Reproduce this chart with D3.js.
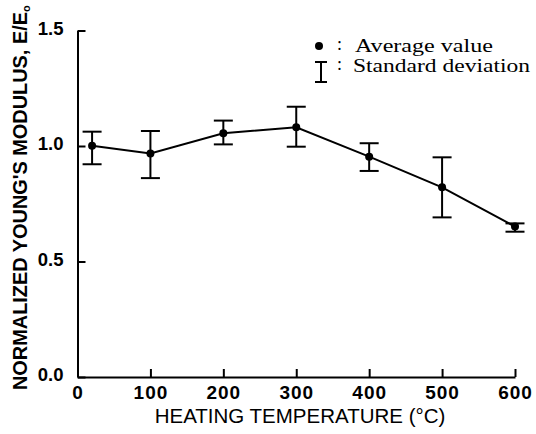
<!DOCTYPE html>
<html><head><meta charset="utf-8">
<script src="https://cdn.jsdelivr.net/npm/d3@7"></script>
<style>
html,body{margin:0;padding:0;background:#fff;}
svg{display:block;}
</style></head>
<body>
<svg id="chart" width="536" height="434"></svg>
<script>
// ---- data ----
const temperatures = [20, 100, 200, 300, 400, 500, 600];
const averageValues = [1.001, 0.968, 1.055, 1.081, 0.954, 0.821, 0.651];
const upperValues   = [1.062, 1.065, 1.110, 1.170, 1.012, 0.951, 0.665];
const lowerValues   = [0.921, 0.861, 1.007, 0.997, 0.892, 0.691, 0.629];
const xTicks = [0, 100, 200, 300, 400, 500, 600];
const yTicks = [0.0, 0.5, 1.0, 1.5];
const xTitle = "HEATING TEMPERATURE (°C)";
const yTitle = "NORMALIZED YOUNG'S MODULUS, E/E";
const yTitleSub = "o";
const legendLabels = ["Average value", "Standard deviation"];

const svg = d3.select("#chart");
const x = d3.scaleLinear().domain([0, 600]).range([77.5, 515]);
const y = d3.scaleLinear().domain([0, 1.5]).range([377, 30.5]);

const data = temperatures.map((t, i) => ({t, v: averageValues[i], hi: upperValues[i], lo: lowerValues[i]}));

// axes
const gx = svg.append("g").attr("transform", `translate(0,${y(0)})`)
  .call(d3.axisBottom(x).tickValues(xTicks).tickSizeInner(-8).tickSizeOuter(0).tickPadding(9).tickFormat(d3.format("d")));
gx.selectAll("text").attr("font-family", "'Liberation Sans', Arial, sans-serif")
  .attr("font-size", 19).attr("font-weight", "bold").attr("letter-spacing", "1px").attr("fill", "#000");

const gy = svg.append("g").attr("transform", `translate(${x(0)},0)`)
  .call(d3.axisLeft(y).tickValues(yTicks).tickSizeInner(-8).tickSizeOuter(0).tickPadding(14).tickFormat(d3.format(".1f")));
gy.selectAll("text").attr("font-family", "'Liberation Sans', Arial, sans-serif")
  .attr("font-size", 18.5).attr("font-weight", "bold").attr("fill", "#000").attr("dy", "0.2em");

svg.selectAll(".domain, .tick line").attr("stroke", "#000").attr("stroke-width", 2);

// line
svg.append("path").datum(data)
  .attr("fill", "none").attr("stroke", "#000").attr("stroke-width", 2)
  .attr("d", d3.line().x(d => x(d.t)).y(d => y(d.v)));

// error bars
const cap = 9.5;
const eb = svg.append("g").attr("stroke", "#000").attr("stroke-width", 2);
eb.selectAll(".v").data(data).join("line")
  .attr("x1", d => x(d.t)).attr("x2", d => x(d.t)).attr("y1", d => y(d.hi)).attr("y2", d => y(d.lo));
eb.selectAll(".t").data(data).join("line")
  .attr("x1", d => x(d.t) - cap).attr("x2", d => x(d.t) + cap).attr("y1", d => y(d.hi)).attr("y2", d => y(d.hi));
eb.selectAll(".b").data(data).join("line")
  .attr("x1", d => x(d.t) - cap).attr("x2", d => x(d.t) + cap).attr("y1", d => y(d.lo)).attr("y2", d => y(d.lo));

// points
svg.append("g").selectAll("circle").data(data).join("circle")
  .attr("cx", d => x(d.t)).attr("cy", d => y(d.v)).attr("r", 4).attr("fill", "#000");

// x title
svg.append("text").attr("x", 300).attr("y", 423).attr("text-anchor", "middle")
  .attr("font-family", "'Liberation Sans', Arial, sans-serif").attr("font-size", 20.5)
  .attr("fill", "#000").text(xTitle);

// y title
const yt = svg.append("text").attr("transform", "translate(27,390) rotate(-90)")
  .attr("font-family", "'Liberation Sans', Arial, sans-serif").attr("font-size", 19.5)
  .attr("font-weight", "bold").attr("fill", "#000");
yt.append("tspan").attr("textLength", 378).attr("lengthAdjust", "spacingAndGlyphs").text(yTitle);
yt.append("tspan").attr("font-size", 11).attr("dy", 3).text(yTitleSub);

// legend
const lg = svg.append("g").attr("font-family", "'Liberation Serif', 'Times New Roman', serif").attr("font-size", 18).attr("fill", "#000");
lg.append("circle").attr("cx", 319).attr("cy", 46).attr("r", 4).attr("fill", "#000");
lg.append("text").attr("x", 337).attr("y", 50).text(":");
lg.append("text").attr("x", 355).attr("y", 52).attr("textLength", 138).attr("lengthAdjust", "spacingAndGlyphs").text(legendLabels[0]);
const ls = lg.append("g").attr("stroke", "#000").attr("stroke-width", 2);
ls.append("line").attr("x1", 321).attr("x2", 321).attr("y1", 62).attr("y2", 82);
ls.append("line").attr("x1", 315).attr("x2", 327).attr("y1", 62).attr("y2", 62);
ls.append("line").attr("x1", 315).attr("x2", 327).attr("y1", 82).attr("y2", 82);
lg.append("text").attr("x", 337).attr("y", 70).text(":");
lg.append("text").attr("x", 353).attr("y", 72).attr("textLength", 177).attr("lengthAdjust", "spacingAndGlyphs").text(legendLabels[1]);
</script>
</body></html>
